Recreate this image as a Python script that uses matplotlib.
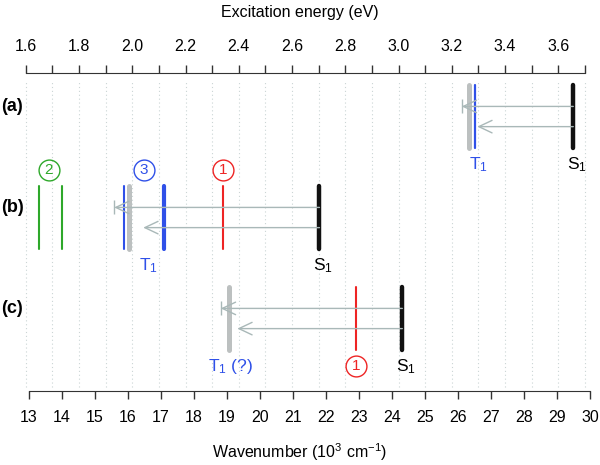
import numpy as np
import matplotlib
matplotlib.use("Agg")
import matplotlib.pyplot as plt

plt.rcParams['font.family'] = ['Liberation Sans', 'DejaVu Sans']
plt.rcParams['mathtext.fontset'] = 'custom'
plt.rcParams['mathtext.rm'] = 'Liberation Sans'
plt.rcParams['mathtext.it'] = 'Liberation Sans:italic'

EV_TO_WN = 8.0655  # 10^3 cm^-1 per eV

# rows (a), (b), (c)
row_names = ['(a)', '(b)', '(c)']
row_y = [3, 2, 1]

# vertical level lines per row: position (10^3 cm^-1), colour, width
a_x = [26.34, 26.51, 29.49]
a_col = ['gray', 'blue', 'black']
a_lw = [3.6, 1.6, 3.2]

b_x = [13.30, 13.99, 15.88, 16.03, 17.09, 18.89, 21.80]
b_col = ['green', 'green', 'blue', 'gray', 'blue', 'red', 'black']
b_lw = [1.5, 1.5, 1.5, 3.6, 3.0, 1.5, 3.2]

c_x = [19.06, 22.91, 24.31]
c_col = ['gray', 'red', 'black']
c_lw = [3.6, 1.5, 3.2]

# arrows: start (S1), tip with bar, plain tip
arrow_start = [29.49, 21.80, 24.31]
arrow_tip_bar = [26.11, 15.58, 18.81]
arrow_tip = [26.58, 16.46, 19.31]

# state labels
t1_x = [26.62, 16.62, 19.10]
t1_txt = ['T$_\\mathregular{1}$', 'T$_\\mathregular{1}$', 'T$_\\mathregular{1}$ (?)']
s1_x = [29.60, 21.90, 24.42]

# circled numbers: x, row, number, colour, above/below
circ_x = [13.60, 16.48, 18.88, 22.91]
circ_row = [2, 2, 2, 1]
circ_num = ['2', '3', '1', '1']
circ_col = ['green', 'blue', 'red', 'red']
circ_side = [1, 1, 1, -1]

colors = {'gray': '#bcc0c0', 'blue': '#2f50e8', 'black': '#111111',
          'green': '#2ea82a', 'red': '#ee2424'}
arrow_color = '#a9b8b8'

fig = plt.figure(figsize=(6, 4.65), dpi=100)
ax = fig.add_axes([0, 0.1591, 1, 0.6839])
xlim = (12.121, 30.30)
ylim = (0.282, 3.431)
ax.set_xlim(*xlim)
ax.set_ylim(*ylim)

# dotted grid at every 0.1 eV
grid_ev = np.round(np.arange(1.6, 3.71, 0.1), 1)
ax.vlines(grid_ev * EV_TO_WN, 0.32, 3.36, colors='#cbd5d5', lw=0.8,
          linestyles=(0, (1, 2.5)), zorder=0)

half = 0.31
for xs, cols, lws, y in [(a_x, a_col, a_lw, 3), (b_x, b_col, b_lw, 2), (c_x, c_col, c_lw, 1)]:
    for x, c, w in zip(xs, cols, lws):
        ax.plot([x, x], [y - half, y + half], color=colors[c], lw=w,
                solid_capstyle='round', zorder=2)

for i, y in enumerate(row_y):
    ax.annotate('', xy=(arrow_tip_bar[i], y + 0.1), xytext=(arrow_start[i], y + 0.1),
                arrowprops=dict(arrowstyle='->,head_length=0.95,head_width=0.45',
                                color=arrow_color, lw=1, shrinkA=0, shrinkB=0), zorder=3)
    ax.plot(arrow_tip_bar[i], y + 0.1, marker='|', ms=10, mew=1, color=arrow_color, zorder=3)
    ax.annotate('', xy=(arrow_tip[i], y - 0.1), xytext=(arrow_start[i], y - 0.1),
                arrowprops=dict(arrowstyle='->,head_length=0.95,head_width=0.45',
                                color=arrow_color, lw=1, shrinkA=0, shrinkB=0), zorder=3)
    ax.text(12.15, y + 0.1, row_names[i], fontsize=13, fontweight='bold',
            ha='left', va='center')
    ax.text(t1_x[i], y - 0.475, t1_txt[i], fontsize=12.5, color=colors['blue'],
            ha='center', va='center')
    ax.text(s1_x[i], y - 0.475, 'S$_\\mathregular{1}$', fontsize=12.5, color='black',
            ha='center', va='center')

for x, r, n, c, s in zip(circ_x, circ_row, circ_num, circ_col, circ_side):
    ax.plot(x, r + s * 0.475, marker='o', ms=15, mfc='none', mec=colors[c], mew=1)
    ax.text(x, r + s * 0.475, n, fontsize=11, color=colors[c], ha='center', va='center')

# bottom axis (wavenumber)
for s in ['left', 'right', 'top']:
    ax.spines[s].set_visible(False)
ax.spines['bottom'].set_bounds(13, 30)
ax.spines['bottom'].set_color('#333333')
ax.set_yticks([])
ax.set_xticks(np.arange(13, 31))
ax.tick_params(axis='x', length=6, width=1, color='#333333', labelsize=11.5, pad=8)

# top axis (eV)
ax2 = ax.twiny()
ax2.set_xlim(xlim[0] / EV_TO_WN, xlim[1] / EV_TO_WN)
for s in ['left', 'right', 'bottom']:
    ax2.spines[s].set_visible(False)
ax2.spines['top'].set_bounds(1.6, 3.7)
ax2.spines['top'].set_color('#333333')
ax2.set_xticks(grid_ev)
ax2.set_xticklabels([f'{v:.1f}' if i % 2 == 0 else '' for i, v in enumerate(grid_ev)])
ax2.tick_params(axis='x', length=6, width=1, color='#333333', labelsize=11.5, pad=8)

fig.text(0.5, 1 - 12 / 465, 'Excitation energy (eV)', fontsize=11.5, ha='center', va='center')
fig.text(0.5, 1 - 452 / 465, 'Wavenumber (10$^\\mathregular{3}$ cm$^\\mathregular{-1}$)',
         fontsize=11.5, ha='center', va='center')

fig.savefig('out.png', dpi=100)
